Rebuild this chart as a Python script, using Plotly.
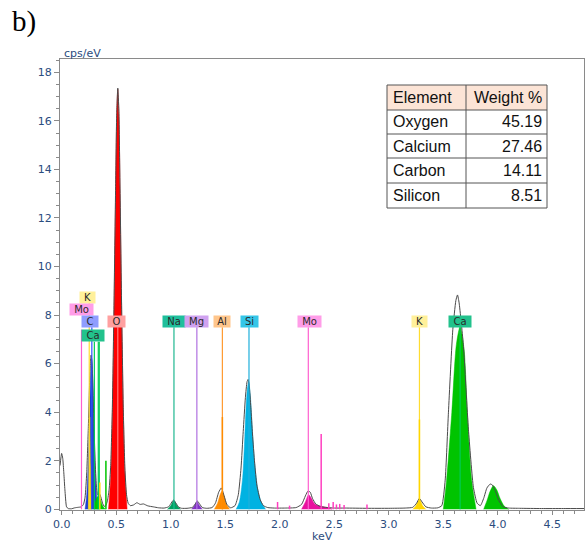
import plotly.graph_objects as go

# ---------------- data ----------------
# measured spectrum (grey/black outline)
spec_kev = [-0.015, 0.0, 0.01, 0.02, 0.03, 0.045, 0.06, 0.09, 0.12, 0.15, 0.18, 0.20, 0.215, 0.23, 0.245,
            0.255, 0.263, 0.27, 0.278, 0.287, 0.297, 0.307, 0.318, 0.33, 0.345, 0.36, 0.375, 0.39, 0.405,
            0.42, 0.435, 0.45, 0.465, 0.48, 0.495, 0.505, 0.515, 0.525, 0.535, 0.55, 0.565, 0.58, 0.595,
            0.61, 0.63, 0.66, 0.69, 0.72, 0.75, 0.79, 0.84, 0.89, 0.94, 0.98, 1.0, 1.025, 1.05, 1.075,
            1.10, 1.15, 1.20, 1.225, 1.245, 1.265, 1.29, 1.33, 1.38, 1.41, 1.44, 1.465, 1.49, 1.515,
            1.55, 1.59, 1.62, 1.645, 1.665, 1.685, 1.70, 1.71, 1.72, 1.735, 1.75, 1.77, 1.79, 1.82,
            1.85, 1.89, 1.95, 2.05, 2.15, 2.20, 2.235, 2.26, 2.28, 2.30, 2.33, 2.37, 2.42, 2.5, 2.6,
            2.8, 3.0, 3.15, 3.22, 3.255, 3.28, 3.305, 3.34, 3.39, 3.45, 3.486, 3.517, 3.547, 3.587,
            3.615, 3.63, 3.645, 3.685, 3.73, 3.776, 3.81, 3.84, 3.87, 3.90, 3.93, 3.95, 3.98, 4.01,
            4.05, 4.10, 4.2, 4.4, 4.6, 4.79]
spec_cps = [1.8, 2.3, 2.1, 1.5, 0.8, 0.1, 0.03, 0.02, 0.06, 0.08, 0.1, 0.2, 0.5, 1.5, 3.4,
            5.0, 6.0, 6.35, 6.1, 5.0, 3.4, 2.0, 1.0, 0.6, 0.65, 0.5, 0.25, 0.12, 0.15,
            0.35, 0.8, 1.8, 4.2, 8.4, 13.3, 16.3, 17.35, 16.4, 13.4, 8.4, 4.2, 1.7, 0.6,
            0.25, 0.15, 0.18, 0.27, 0.2, 0.22, 0.14, 0.1, 0.06, 0.05, 0.1, 0.22, 0.38, 0.24, 0.08,
            0.04, 0.04, 0.08, 0.22, 0.34, 0.22, 0.07, 0.04, 0.07, 0.25, 0.7, 0.88, 0.55, 0.2,
            0.06, 0.15, 0.6, 1.7, 3.2, 4.6, 5.25, 5.35, 5.1, 4.2, 3.1, 1.9, 1.0, 0.4,
            0.15, 0.07, 0.05, 0.05, 0.07, 0.2, 0.55, 0.76, 0.7, 0.45, 0.22, 0.12, 0.08, 0.05, 0.05,
            0.04, 0.04, 0.05, 0.08, 0.25, 0.45, 0.3, 0.1, 0.05, 0.06, 0.15, 1.2, 4.0, 7.4,
            8.6, 8.83, 8.5, 6.7, 3.3, 0.9, 0.25, 0.15, 0.45, 0.88, 1.04, 1.0, 0.72, 0.35,
            0.1, 0.05, 0.04, 0.03, 0.03, 0.03]

# fitted element peaks (filled)
c_kev = [0.215, 0.23, 0.245, 0.255, 0.265, 0.275, 0.285, 0.295, 0.305, 0.32, 0.335]
c_cps = [0, 0.6, 2.0, 3.6, 5.3, 6.2, 5.4, 3.6, 2.0, 0.6, 0]
kl_kev = [0.245, 0.252, 0.258, 0.264, 0.271]
kl_cps = [0, 1.8, 3.8, 1.8, 0]
cal_kev = [0.295, 0.31, 0.325, 0.34, 0.355, 0.37, 0.385, 0.40]
cal_cps = [0, 0.3, 0.5, 0.55, 0.4, 0.2, 0.08, 0]
o_kev = [0.43, 0.45, 0.465, 0.48, 0.495, 0.505, 0.515, 0.525, 0.535, 0.55, 0.565, 0.58, 0.60]
o_cps = [0, 1.3, 3.8, 8.0, 13.0, 16.2, 17.3, 16.3, 13.3, 8.3, 4.1, 1.5, 0]
na_kev = [0.97, 1.0, 1.03, 1.06, 1.09]
na_cps = [0, 0.14, 0.37, 0.14, 0]
mg_kev = [1.19, 1.215, 1.24, 1.265, 1.29]
mg_cps = [0, 0.12, 0.32, 0.14, 0]
al_kev = [1.40, 1.43, 1.45, 1.47, 1.49, 1.51, 1.54]
al_cps = [0, 0.25, 0.55, 0.74, 0.55, 0.22, 0]
si_kev = [1.60, 1.63, 1.66, 1.68, 1.70, 1.715, 1.73, 1.75, 1.77, 1.80, 1.83, 1.87]
si_cps = [0, 0.3, 1.3, 3.0, 4.8, 5.25, 4.7, 3.2, 1.9, 0.8, 0.3, 0]
mo_kev = [2.20, 2.235, 2.265, 2.29, 2.32, 2.36, 2.40, 2.45, 2.48]
mo_cps = [0, 0.3, 0.6, 0.45, 0.22, 0.15, 0.1, 0.06, 0]
k_kev = [3.22, 3.25, 3.281, 3.31, 3.34]
k_cps = [0, 0.15, 0.42, 0.15, 0]
caka_kev = [3.50, 3.53, 3.578, 3.62, 3.654, 3.69, 3.72, 3.76, 3.80]
caka_cps = [0, 1.2, 4.0, 6.8, 7.52, 6.6, 4.0, 1.2, 0]
cakb_kev = [3.87, 3.90, 3.93, 3.96, 3.99, 4.02, 4.06, 4.10]
cakb_cps = [0, 0.35, 0.75, 0.97, 0.8, 0.45, 0.12, 0]

# element marker lines
line_elem = ["Mo", "K", "C", "Ca", "Ca", "Ca", "O", "Na", "Mg", "Al", "Si", "Mo", "K", "Ca"]
line_kev = [0.182, 0.253, 0.277, 0.30, 0.336, 0.345, 0.515, 1.03, 1.24, 1.474, 1.718, 2.262, 3.281, 3.654]
line_top = [7.4, 8.5, 7.5, 6.9, 6.9, 6.9, 7.5, 7.5, 7.5, 7.5, 7.5, 7.5, 7.5, 7.5]

# line-intensity spikes
spike_elem = ["K", "Ca", "Al", "Mo", "Mo", "Mo", "Mo", "Mo", "Mo", "Mo", "Mo", "Mo", "K"]
spike_kev = [0.35, 0.406, 1.474, 1.98, 2.09, 2.38, 2.45, 2.49, 2.52, 2.55, 2.59, 2.80, 3.281]
spike_cps = [1.1, 2.0, 3.8, 0.3, 0.15, 3.1, 0.25, 0.3, 0.2, 0.22, 0.18, 0.2, 3.7]

# element labels
label_text = ["K", "Mo", "C", "Ca", "O", "Na", "Mg", "Al", "Si", "Mo", "K", "Ca"]
label_kev = [0.239, 0.179, 0.257, 0.285, 0.50, 1.03, 1.236, 1.47, 1.723, 2.275, 3.283, 3.652]
label_cps = [8.74, 8.23, 7.74, 7.14, 7.74, 7.74, 7.74, 7.74, 7.74, 7.74, 7.74, 7.74]

# quantification table
table_header = ["Element", "Weight %"]
table_elements = ["Oxygen", "Calcium", "Carbon", "Silicon"]
table_weights = ["45.19", "27.46", "14.11", "8.51"]

x_ticks = [0.0, 0.5, 1.0, 1.5, 2.0, 2.5, 3.0, 3.5, 4.0, 4.5]
y_ticks = [0, 2, 4, 6, 8, 10, 12, 14, 16, 18]

# ---------------- styles ----------------
fill_col = {"C": "#1f3fd0", "KL": "#ffd600", "CaL": "#00c800", "O": "#ff0000", "Na": "#00a060",
            "Mg": "#8032c4", "Al": "#ff8c00", "Si": "#00b2e2", "Mo": "#e8129f", "K": "#ffd600",
            "Ca": "#00c400"}
line_col = {"C": "#2f50ff", "O": "#ff8080", "Ca": "#00cc55", "Na": "#20b890", "Mg": "#b070e0",
            "Al": "#ff9a30", "Si": "#20b0dc", "Mo": "#ff5fcf", "K": "#ffdc30"}
label_bg = {"C": "#8f9dff", "O": "#ffa0a0", "Ca": "#22c28c", "Na": "#1fbf9c", "Mg": "#d0a2f0",
            "Al": "#ffc68c", "Si": "#35c6e8", "Mo": "#ff9de8", "K": "#fff09a"}
label_w = {"K": 15, "C": 16, "O": 17, "Al": 16, "Si": 17, "Na": 22, "Mg": 23, "Mo": 23, "Ca": 22}

L, R, T, B = 60, 4, 59, 35
W, H = 588, 545
PW, PH = W - L - R, H - T - B


def px(xp):
    return (xp - L) / PW


def py(yp):
    return (H - B - yp) / PH


fig = go.Figure()

peaks = [(c_kev, c_cps, "C"), (cal_kev, cal_cps, "CaL"), (kl_kev, kl_cps, "KL"), (o_kev, o_cps, "O"),
         (na_kev, na_cps, "Na"), (mg_kev, mg_cps, "Mg"), (al_kev, al_cps, "Al"), (si_kev, si_cps, "Si"),
         (mo_kev, mo_cps, "Mo"), (k_kev, k_cps, "K"), (caka_kev, caka_cps, "Ca"), (cakb_kev, cakb_cps, "Ca")]
for xs, ys, key in peaks:
    fig.add_trace(go.Scatter(x=xs, y=ys, mode="lines", fill="tozeroy", fillcolor=fill_col[key],
                             line=dict(color=fill_col[key], width=0.5, shape="spline", smoothing=0.8),
                             hoverinfo="skip", showlegend=False))

# measured spectrum outline
fig.add_trace(go.Scatter(x=spec_kev, y=spec_cps, mode="lines",
                         line=dict(color="#4a4a4a", width=1, shape="spline", smoothing=0.5),
                         hoverinfo="skip", showlegend=False))

# marker lines and spikes
for k, top, el in zip(line_kev, line_top, line_elem):
    fig.add_trace(go.Scatter(x=[k, k], y=[0, top], mode="lines",
                             line=dict(color=line_col[el], width=1.2),
                             hoverinfo="skip", showlegend=False))
for k, top, el in zip(spike_kev, spike_cps, spike_elem):
    fig.add_trace(go.Scatter(x=[k, k], y=[0, top], mode="lines",
                             line=dict(color=fill_col[el] if el != "Mo" else "#ff3fc0", width=1.5),
                             hoverinfo="skip", showlegend=False))

# labels
for t, k, c in zip(label_text, label_kev, label_cps):
    fig.add_annotation(x=k, y=c, xref="x", yref="y", text=t, showarrow=False,
                       bgcolor=label_bg[t], width=label_w[t], height=11, borderpad=0,
                       font=dict(family="DejaVu Sans", size=10, color="#2a2a2a"),
                       xanchor="center", yanchor="middle", align="center", valign="middle")

# table (drawn with shapes + text)
tbl_left, tbl_mid, tbl_right = 387, 466, 547
row_edges = [85, 110, 134, 158, 183, 208]
tbl_font = dict(family="Liberation Sans", size=16, color="#111111")
fig.add_shape(type="rect", xref="paper", yref="paper", x0=px(tbl_left), x1=px(tbl_right),
              y0=py(row_edges[1]), y1=py(row_edges[0]), fillcolor="#fce4d6", line=dict(width=0), layer="above")
fig.add_shape(type="rect", xref="paper", yref="paper", x0=px(tbl_left), x1=px(tbl_right),
              y0=py(row_edges[-1]), y1=py(row_edges[1]), fillcolor="white", line=dict(width=0), layer="above")
for e in row_edges:
    fig.add_shape(type="line", xref="paper", yref="paper", x0=px(tbl_left), x1=px(tbl_right),
                  y0=py(e), y1=py(e), line=dict(color="#555555", width=1), layer="above")
for xv in (tbl_left, tbl_mid, tbl_right):
    fig.add_shape(type="line", xref="paper", yref="paper", x0=px(xv), x1=px(xv),
                  y0=py(row_edges[0]), y1=py(row_edges[-1]), line=dict(color="#555555", width=1), layer="above")
col1 = [table_header[0]] + table_elements
col2 = [table_header[1]] + table_weights
for i in range(len(col1)):
    yc = py((row_edges[i] + row_edges[i + 1]) / 2)
    fig.add_annotation(x=px(tbl_left + 4), y=yc, xref="paper", yref="paper", text=col1[i],
                       showarrow=False, xanchor="left", yanchor="middle", font=tbl_font)
    fig.add_annotation(x=px(tbl_right - 3), y=yc, xref="paper", yref="paper", text=col2[i],
                       showarrow=False, xanchor="right", yanchor="middle", font=tbl_font)

axis_font = dict(family="DejaVu Sans", size=11, color="#2b4c7e")
fig.update_layout(
    width=W, height=H, margin=dict(l=L, r=R, t=T, b=B),
    paper_bgcolor="white", plot_bgcolor="white", showlegend=False,
    xaxis=dict(range=[-0.015, 4.79], tickvals=x_ticks, ticktext=[f"{v:.1f}" for v in x_ticks],
               showgrid=False, zeroline=False, showline=True, linecolor="#8a8a8a", linewidth=1,
               mirror=True, ticks="outside", ticklen=4, tickcolor="#8a8a8a", tickfont=axis_font,
               minor=dict(dtick=0.1, ticks="outside", ticklen=3, tickcolor="#8a8a8a")),
    yaxis=dict(range=[-0.03, 18.55], tickvals=y_ticks, showgrid=False, zeroline=False,
               showline=True, linecolor="#8a8a8a", linewidth=1, mirror=True, ticks="outside",
               ticklen=5, tickcolor="#8a8a8a", tickfont=axis_font,
               minor=dict(dtick=0.5, ticks="outside", ticklen=3, tickcolor="#8a8a8a")),
)

fig.add_annotation(x=px(62), y=py(53.5), xref="paper", yref="paper", text="cps/eV", showarrow=False,
                   xanchor="left", yanchor="middle", font=dict(family="DejaVu Sans", size=11, color="#2b4c7e"))
fig.add_annotation(x=px(322), y=py(536), xref="paper", yref="paper", text="keV", showarrow=False,
                   xanchor="center", yanchor="middle", font=dict(family="DejaVu Sans", size=11, color="#2b4c7e"))
fig.add_annotation(x=px(10), y=py(3), xref="paper", yref="paper", text="b)", showarrow=False,
                   xanchor="left", yanchor="top", font=dict(family="Liberation Serif", size=29, color="#000000"))

fig.write_html("out.html")
